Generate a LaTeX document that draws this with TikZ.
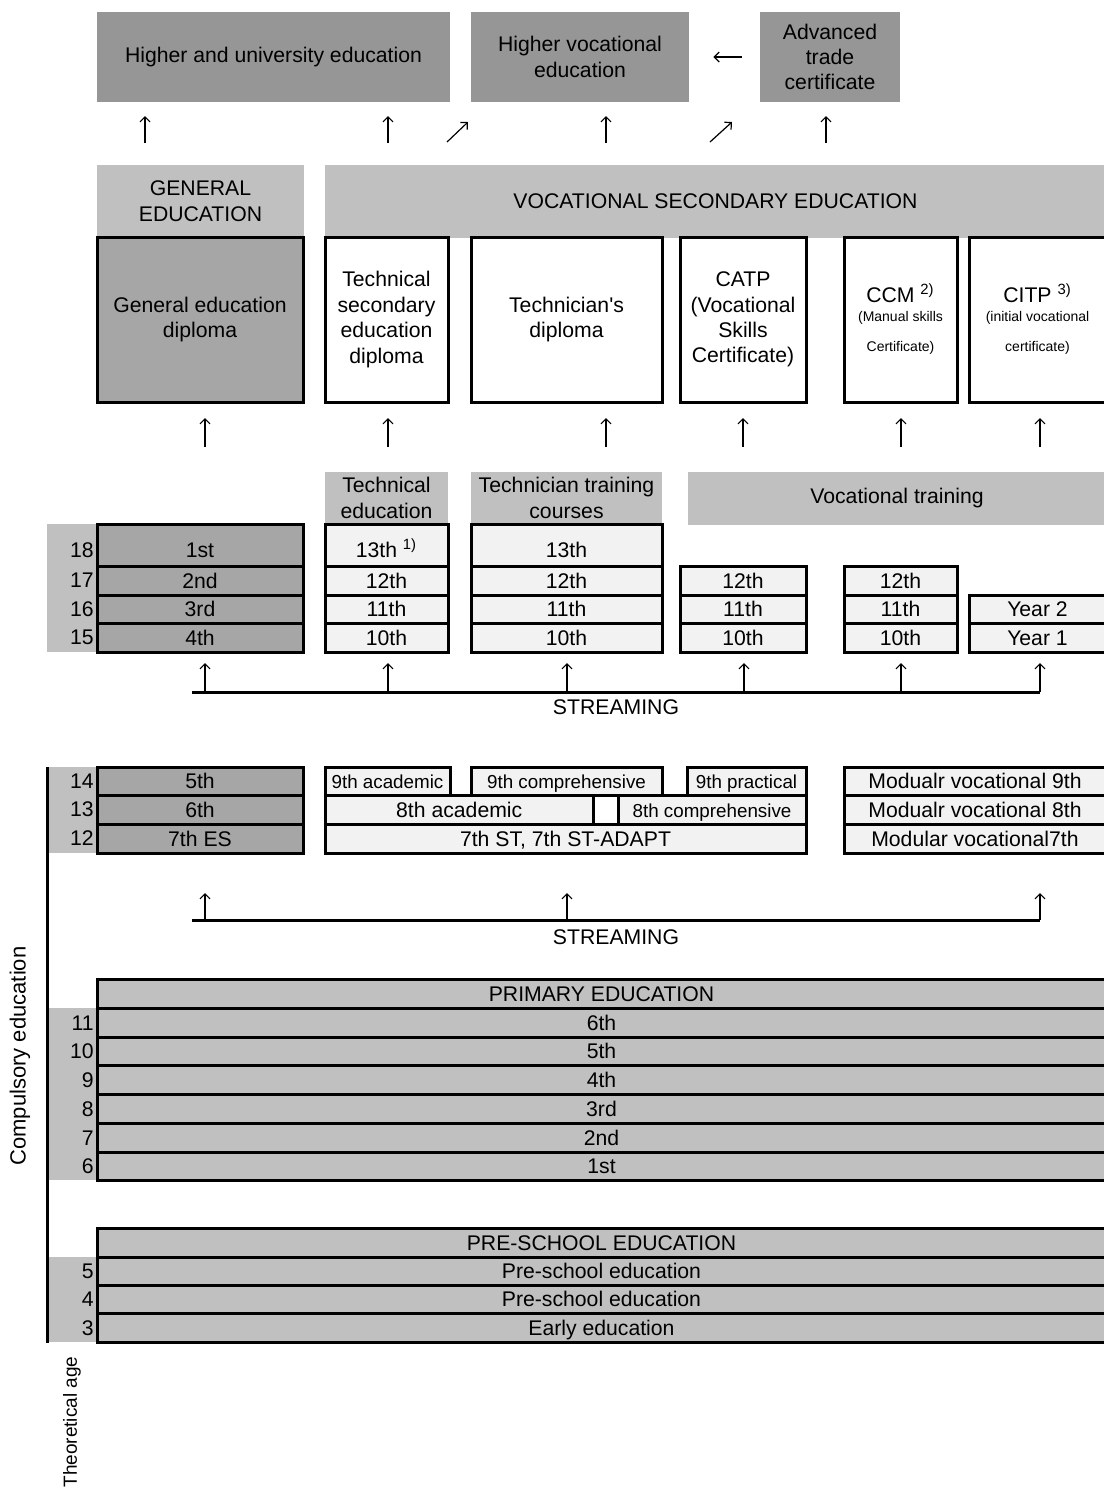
\documentclass[tikz,border=0pt]{standalone}
\usepackage{fontspec}
\setmainfont{Liberation Sans}
\usetikzlibrary{arrows.meta}

\definecolor{higher}{HTML}{969696}
\definecolor{head}{HTML}{C0C0C0}
\definecolor{general}{HTML}{A6A6A6}
\definecolor{light}{HTML}{F2F2F2}

% box from (x1,y1) to (x2,y2), in pixel units
\newcommand\gridbox[7]{\node[#1, minimum width={(#5-#3)*0.5pt}, minimum height={(#6-#4)*0.5pt}] (#2) at ({(#3+#5)/2},{(#4+#6)/2}) {#7};}
\newcommand\smalltxt{\fontsize{7}{8}\selectfont}

\begin{document}
\begin{tikzpicture}[x=0.5pt,y=-0.5pt,font=\fontsize{10.6}{12.7}\selectfont]
    \tikzset{hi/.style = {fill=higher,align=center,inner sep=0pt}, hd/.style = {fill=head,align=center,inner sep=0pt},
      dip/.style = {draw,line width=1.5pt,fill=white,align=center,inner sep=0pt},
      genrow/.style = {draw,line width=1.5pt,fill=general,inner sep=0pt,text height=7.6pt,text depth=0pt},
      lightrow/.style = {draw,line width=1.5pt,fill=light,inner sep=0pt,text height=7.6pt,text depth=0pt},
      baserow/.style = {draw,line width=1.5pt,fill=head,inner sep=0pt,text height=7.6pt,text depth=0pt},
      toprow/.style = {text height=12.6pt}, nine/.style = {font=\fontsize{9.4}{11}\selectfont},
      agecol/.style = {fill=head,inner sep=0pt}, age/.style = {anchor=east,inner sep=0pt,text height=7.6pt,text depth=0pt},
      up/.style = {-{Straight Barb[length=2.5pt,width=5pt]},line width=0.6pt}, stream/.style = {line width=1.5pt}}
    \useasboundingbox (0,0) rectangle (1104,1490);

    % higher level
    \gridbox{hi}{hue}{97}{12}{450}{102}{Higher and university education}
    \gridbox{hi}{hve}{471}{12}{689}{102}{Higher vocational\\education}
    \gridbox{hi}{atc}{760}{12}{900}{102}{Advanced\\trade\\certificate}
    \draw[up,shorten <=9pt,shorten >=12pt] (atc) -- (hve);

    \foreach \ax [count=\i] in {145,388,606,826}{
      \coordinate (r1t\i) at (\ax,143);
      \coordinate (r1h\i) at (\ax,116);
      \draw[up] (r1t\i) -- (r1h\i);}
    \coordinate (d1t) at (447,142); \coordinate (d1h) at (468,122);
    \coordinate (d2t) at (710,142); \coordinate (d2h) at (732,122);
    \draw[up] (d1t) -- (d1h);
    \draw[up] (d2t) -- (d2h);

    % secondary: diplomas
    \gridbox{hd}{gen}{97}{165}{304}{237}{GENERAL\\EDUCATION}
    \gridbox{hd}{voc}{325}{165}{1106}{238}{VOCATIONAL SECONDARY EDUCATION}
    \gridbox{dip,fill=general}{ged}{97}{237}{303}{402}{General education\\diploma}
    \gridbox{dip}{tsd}{325}{237}{448}{402}{Technical\\secondary\\education\\diploma}
    \gridbox{dip}{tcd}{471}{237}{662}{402}{Technician\textquotesingle s\\diploma}
    \gridbox{dip}{catp}{680}{237}{806}{402}{CATP\\(Vocational\\Skills\\Certificate)}
    \gridbox{dip}{ccm}{844}{237}{957}{402}{CCM \textsuperscript{2)}\\[-3.2pt]{\smalltxt (Manual skills}\\[2.3pt]{\smalltxt Certificate)}}
    \gridbox{dip}{citp}{969}{237}{1106}{402}{CITP \textsuperscript{3)}\\[-3.2pt]{\smalltxt (initial vocational}\\[2.3pt]{\smalltxt certificate)}}

    \foreach \ax [count=\i] in {205,388,606,743,901,1040}{
      \coordinate (r2t\i) at (\ax,447);
      \coordinate (r2h\i) at (\ax,418);
      \draw[up] (r2t\i) -- (r2h\i);}

    % secondary: grades
    \gridbox{hd}{ted}{325}{472}{448}{524}{Technical\\education}
    \gridbox{hd}{ttc}{471}{472}{662}{524}{Technician training\\courses}
    \gridbox{hd}{vtr}{688}{472}{1106}{525}{Vocational training}

    \gridbox{agecol}{ageA}{47}{524}{97}{652}{}
    \foreach \ag/\ay in {18/550,17/580,16/609,15/637}
      \node[age] (age\ag) at (94,\ay) {\ag};

    \gridbox{genrow,toprow}{g1}{97}{524}{303}{566}{1st}
    \gridbox{genrow}{g2}{97}{566}{303}{595}{2nd}
    \gridbox{genrow}{g3}{97}{595}{303}{623}{3rd}
    \gridbox{genrow}{g4}{97}{623}{303}{652}{4th}

    \gridbox{lightrow,toprow}{t13}{325}{524}{448}{566}{13th \textsuperscript{1)}}
    \gridbox{lightrow}{t12}{325}{566}{448}{595}{12th}
    \gridbox{lightrow}{t11}{325}{595}{448}{623}{11th}
    \gridbox{lightrow}{t10}{325}{623}{448}{652}{10th}

    \gridbox{lightrow,toprow}{c13}{471}{524}{662}{566}{13th}
    \gridbox{lightrow}{c12}{471}{566}{662}{595}{12th}
    \gridbox{lightrow}{c11}{471}{595}{662}{623}{11th}
    \gridbox{lightrow}{c10}{471}{623}{662}{652}{10th}

    \gridbox{lightrow}{p12}{680}{566}{806}{595}{12th}
    \gridbox{lightrow}{p11}{680}{595}{806}{623}{11th}
    \gridbox{lightrow}{p10}{680}{623}{806}{652}{10th}

    \gridbox{lightrow}{m12}{844}{566}{957}{595}{12th}
    \gridbox{lightrow}{m11}{844}{595}{957}{623}{11th}
    \gridbox{lightrow}{m10}{844}{623}{957}{652}{10th}

    \gridbox{lightrow}{i2}{969}{595}{1106}{623}{Year 2}
    \gridbox{lightrow}{i1}{969}{623}{1106}{652}{Year 1}

    % streaming after lower secondary
    \coordinate (s1l) at (192,692); \coordinate (s1r) at (1040,692);
    \draw[stream] (s1l) -- (s1r);
    \foreach \ax [count=\i] in {205,388,567,744,901,1040}{
      \coordinate (s1a\i) at (\ax,663);
      \draw[up] (s1a\i |- s1l) -- (s1a\i);}
    \node (st1) at (616,707) {STREAMING};

    % lower secondary
    \gridbox{agecol}{ageB}{47}{767}{97}{853}{}
    \foreach \ag/\ay in {14/781,13/809,12/838}
      \node[age] (age\ag) at (94,\ay) {\ag};

    \gridbox{genrow}{g5}{97}{767}{303}{795}{5th}
    \gridbox{genrow}{g6}{97}{795}{303}{824}{6th}
    \gridbox{genrow}{g7}{97}{824}{303}{853}{7th ES}

    \gridbox{lightrow,nine}{n9a}{325}{767}{450}{795}{9th academic}
    \gridbox{lightrow,nine}{n9c}{471}{767}{662}{795}{9th comprehensive}
    \gridbox{lightrow,nine}{n9p}{687}{767}{806}{795}{9th practical}
    \gridbox{lightrow}{n8a}{325}{795}{593.5}{824}{8th academic}
    \gridbox{lightrow,fill=white}{n8x}{593.5}{795}{618}{824}{}
    \gridbox{lightrow,nine}{n8c}{618}{795}{806}{824}{8th comprehensive}
    \gridbox{lightrow}{n7}{325}{824}{806}{853}{7th ST, 7th ST-ADAPT}

    \gridbox{lightrow}{v9}{844}{767}{1106}{795}{Modualr vocational 9th}
    \gridbox{lightrow}{v8}{844}{795}{1106}{824}{Modualr vocational 8th}
    \gridbox{lightrow}{v7}{844}{824}{1106}{853}{Modular vocational7th}

    % streaming after primary
    \coordinate (s2l) at (192,920); \coordinate (s2r) at (1040,920);
    \draw[stream] (s2l) -- (s2r);
    \foreach \ax [count=\i] in {205,567,1040}{
      \coordinate (s2a\i) at (\ax,893);
      \draw[up] (s2a\i |- s2l) -- (s2a\i);}
    \node (st2) at (616,937) {STREAMING};

    % primary
    \gridbox{agecol}{ageC}{47}{1008}{97}{1180}{}
    \gridbox{baserow}{prim}{97}{979}{1106}{1008}{PRIMARY EDUCATION}
    \foreach \yt/\yb/\gr/\ag [count=\i] in {1008/1037/6th/11,1037/1065/5th/10,1065/1094/4th/9,1094/1123/3rd/8,1123/1152/2nd/7,1152/1180/1st/6}{
      \gridbox{baserow}{pr\i}{97}{\yt}{1106}{\yb}{\gr}
      \node[age] (age\ag) at (94,{(\yt+\yb)/2}) {\ag};}

    % pre-school
    \gridbox{agecol}{ageD}{47}{1257}{97}{1342}{}
    \gridbox{baserow}{pres}{97}{1228}{1106}{1257}{PRE-SCHOOL EDUCATION}
    \foreach \yt/\yb/\gr/\ag [count=\i] in {1257/1285/Pre-school education/5,1285/1313/Pre-school education/4,1313/1342/Early education/3}{
      \gridbox{baserow}{ps\i}{97}{\yt}{1106}{\yb}{\gr}
      \node[age] (age\ag) at (94,{(\yt+\yb)/2}) {\ag};}

    % compulsory bracket and captions
    \coordinate (ct) at (47,767); \coordinate (cb) at (47,1343);
    \draw[stream] (ct) -- (cb);
    \node[rotate=90,font=\fontsize{11}{13}\selectfont] (comp) at (20,1056) {Compulsory education};
    \node[rotate=90,font=\fontsize{9.5}{11}\selectfont] (theo) at (72,1422) {Theoretical age};
\end{tikzpicture}
\end{document}
